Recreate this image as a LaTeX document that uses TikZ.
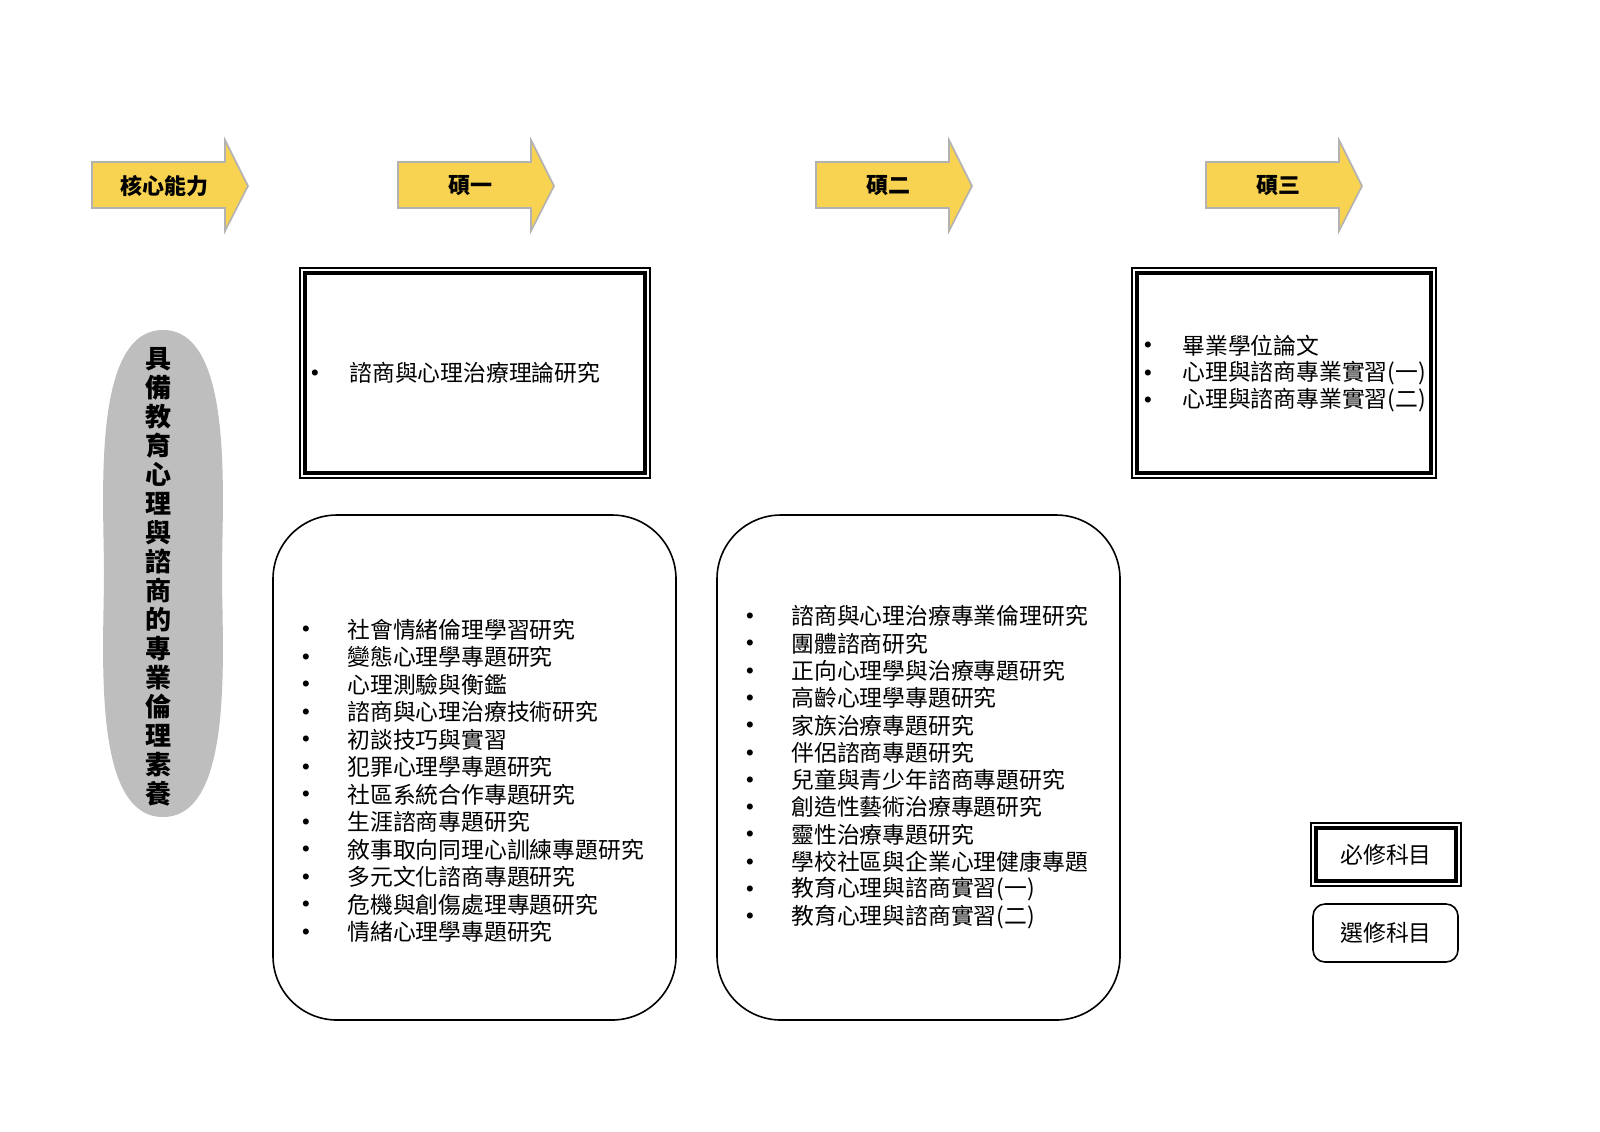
\documentclass[tikz,border=0pt]{standalone}
\usepackage{fontspec}
\usetikzlibrary{shapes.geometric}
\newfontfamily\cjk{Noto Sans CJK TC}
\begin{document}
\begin{tikzpicture}[x=0.5pt,y=-0.5pt,
  lst/.style={anchor=west,inner sep=0pt,font=\cjk\fontsize{11.4}{13}\selectfont},
  bul/.style={anchor=center,inner sep=0pt,font=\fontsize{7}{8}\selectfont},
  arlab/.style={font=\cjk\bfseries\fontsize{11}{13}\selectfont,inner sep=0pt}]
\useasboundingbox (0,0) rectangle (1600,1131);
\definecolor{ayel}{HTML}{F8D351}
\definecolor{gr}{HTML}{BEBEBE}
% block arrows
\foreach \x/\t/\n in {92/核心能力/a0,398/碩一/a1,816/碩二/a2,1206/碩三/a3}{
  \filldraw[fill=ayel,draw=gray!60,line width=0.8pt] (\x,162) -- (\x+133,162) -- (\x+133,140) -- (\x+156,186) -- (\x+133,231) -- (\x+133,208) -- (\x,208) -- cycle;
  \node[arlab] (\n) at (\x+72,186) {\t};
}
% rounded capsule-like shape
\fill[gr] (163,330) .. controls (235,330) and (222,500) .. (222,573) .. controls (222,650) and (235,817) .. (163,817)
  .. controls (91,817) and (104,650) .. (104,573) .. controls (104,500) and (91,330) .. (163,330) -- cycle;
\node[font=\cjk\bfseries\fontsize{13}{14.5}\selectfont,align=center,inner sep=0pt] (vt) at (158,577)
 {具\\備\\教\\育\\心\\理\\與\\諮\\商\\的\\專\\業\\倫\\理\\素\\養};
% double boxes
\foreach \a/\b/\c/\d/\n in {300/268/650/478/b1,1132/268/1436/478/b3,1311/823/1461/886/lg1}{
  \draw[line width=1pt] (\a,\b) rectangle (\c,\d);
  \draw[line width=1.8pt] (\a+5,\b+5) rectangle (\c-5,\d-5);
  \coordinate (\n) at (\a,\b);
}
\node[font=\cjk\fontsize{11.4}{13}\selectfont] (lt1) at (1386,855) {必修科目};
\draw[line width=0.8pt,rounded corners=6pt] (1313,904) rectangle (1458,962);
\node[font=\cjk\fontsize{11.4}{13}\selectfont] (lt2) at (1386,933) {選修科目};
\draw[line width=0.8pt,rounded corners=32pt] (273,515) rectangle (676,1020);
\draw[line width=0.8pt,rounded corners=32pt] (717,515) rectangle (1120,1020);
% box1
\node[bul] (p1) at (315,373) {$\bullet$};
\node[lst] (t1) at (349,373) {諮商與心理治療理論研究};
% box3
\foreach \t [count=\i] in {畢業學位論文,心理與諮商專業實習(一),心理與諮商專業實習(二)}{
  \node[bul] (q\i) at (1148,318+27.5*\i) {$\bullet$};
  \node[lst] (s\i) at (1182,318+27.5*\i) {\t};
}
% left list
\foreach \t [count=\i] in {社會情緒倫理學習研究,變態心理學專題研究,心理測驗與衡鑑,諮商與心理治療技術研究,初談技巧與實習,犯罪心理學專題研究,社區系統合作專題研究,生涯諮商專題研究,敘事取向同理心訓練專題研究,多元文化諮商專題研究,危機與創傷處理專題研究,情緒心理學專題研究}{
  \node[bul] (lb\i) at (306,602+27.5*\i) {$\bullet$};
  \node[lst] (lt\i) at (347,602+27.5*\i) {\t};
}
% middle list
\foreach \t [count=\i] in {諮商與心理治療專業倫理研究,團體諮商研究,正向心理學與治療專題研究,高齡心理學專題研究,家族治療專題研究,伴侶諮商專題研究,兒童與青少年諮商專題研究,創造性藝術治療專題研究,靈性治療專題研究,學校社區與企業心理健康專題,教育心理與諮商實習(一),教育心理與諮商實習(二)}{
  \node[bul] (mb\i) at (750,589+27.3*\i) {$\bullet$};
  \node[lst] (mt\i) at (791,589+27.3*\i) {\t};
}
\end{tikzpicture}
\end{document}
